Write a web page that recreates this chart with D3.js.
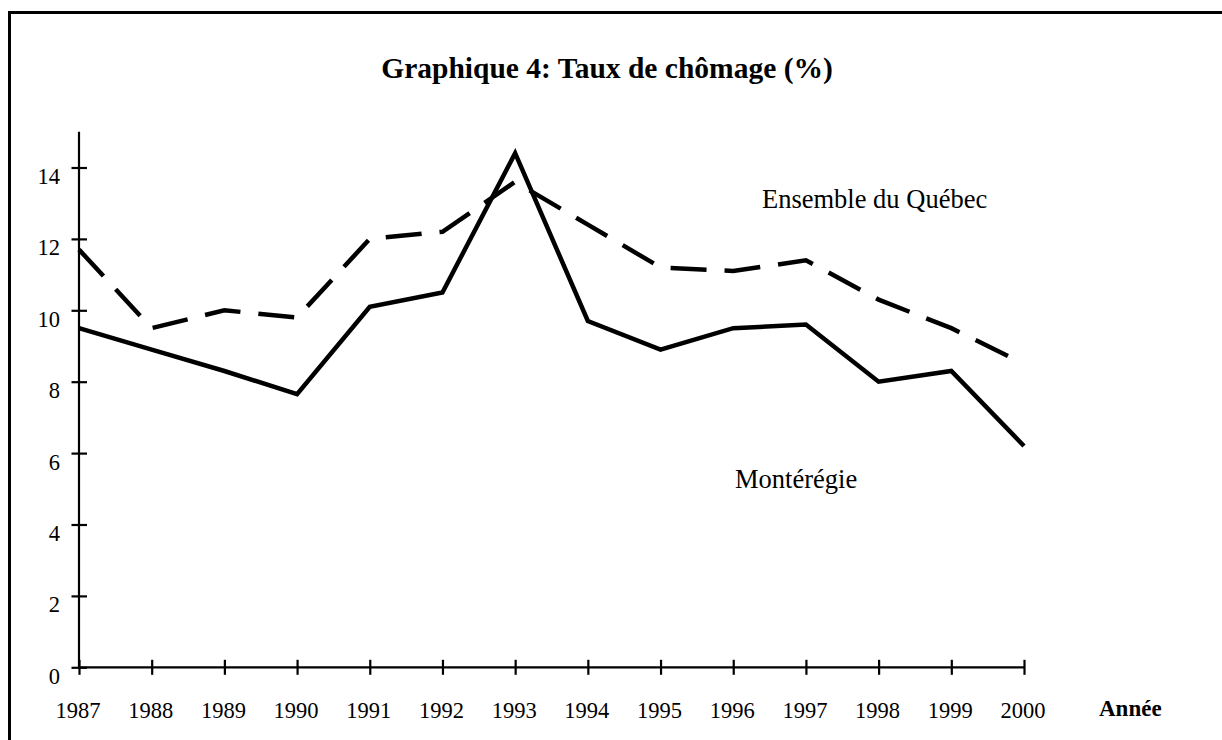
<!DOCTYPE html>
<html>
<head>
<meta charset="utf-8">
<script src="https://cdn.jsdelivr.net/npm/d3@7/dist/d3.min.js"></script>
<style>
  html, body { margin: 0; padding: 0; background: #fff; }
  svg { display: block; }
  text { font-family: "Liberation Serif", "Times New Roman", serif; fill: #000; }
</style>
</head>
<body>
<svg id="chart" width="1222" height="740"></svg>
<script>
const years = [1987, 1988, 1989, 1990, 1991, 1992, 1993, 1994, 1995, 1996, 1997, 1998, 1999, 2000];
const monteregie = [9.5, 8.9, 8.3, 7.65, 10.1, 10.5, 14.4, 9.7, 8.9, 9.5, 9.6, 8.0, 8.3, 6.2];
const quebec = [11.7, 9.5, 10.0, 9.8, 12.0, 12.2, 13.6, 12.4, 11.2, 11.1, 11.4, 10.3, 9.5, 8.5];
const yTicks = [0, 2, 4, 6, 8, 10, 12, 14];
const title = "Graphique 4: Taux de chômage (%)";
const xTitle = "Année";
const seriesLabels = ["Ensemble du Québec", "Montérégie"];

const svg = d3.select("#chart");
const serif = '"Liberation Serif", "Times New Roman", serif';

// outer frame
svg.append("rect")
  .attr("x", 9.5).attr("y", 12.5)
  .attr("width", 1400).attr("height", 900)
  .attr("fill", "none").attr("stroke", "#000").attr("stroke-width", 3);

const x = d3.scaleLinear().domain([1987, 2000]).range([79, 1024]);
const y = d3.scaleLinear().domain([0, 15]).range([667.3, 131.8]);

// title
svg.append("text")
  .attr("x", 607).attr("y", 78)
  .attr("text-anchor", "middle")
  .attr("font-weight", "bold")
  .attr("font-size", 29.5)
  .text(title);

// Y axis
const yAxis = svg.append("g").attr("transform", `translate(${x(1987)},0)`)
  .call(d3.axisLeft(y).tickValues(yTicks).tickSize(0).tickFormat(""));
yAxis.select(".domain").attr("stroke", "#000").attr("stroke-width", 2.2)
  .attr("d", `M0,${y(15)}V${y(0)}`);
yAxis.selectAll(".tick line").attr("x1", -7.5).attr("x2", 8).attr("stroke", "#000").attr("stroke-width", 2.2);
yAxis.selectAll(".tick").append("text")
  .attr("x", -19).attr("y", 16)
  .attr("text-anchor", "end")
  .attr("font-size", 22.5)
  .attr("fill", "#000")
  .style("font-family", serif)
  .text(d => d);

// X axis
const xAxis = svg.append("g").attr("transform", `translate(0,${y(0)})`)
  .call(d3.axisBottom(x).tickValues(years).tickSize(0).tickFormat(""));
xAxis.select(".domain").attr("stroke", "#000").attr("stroke-width", 2.2)
  .attr("d", `M${x(1987)},0H${x(2000)}`);
xAxis.selectAll(".tick line").attr("y1", -7.5).attr("y2", 7.5).attr("stroke", "#000").attr("stroke-width", 2.2);
xAxis.selectAll(".tick").append("text")
  .attr("x", -1.5).attr("y", 51)
  .attr("text-anchor", "middle")
  .attr("font-size", 22.5)
  .attr("fill", "#000")
  .style("font-family", serif)
  .text(d => d);

svg.append("text")
  .attr("x", 1099).attr("y", 716)
  .attr("font-weight", "bold")
  .attr("font-size", 23)
  .text(xTitle);

// lines
const line = d3.line().x((d, i) => x(years[i])).y(d => y(d));

svg.append("path")
  .datum(quebec)
  .attr("d", line)
  .attr("fill", "none").attr("stroke", "#000")
  .attr("stroke-width", 4.5)
  .attr("stroke-dasharray", "36,18");

svg.append("path")
  .datum(monteregie)
  .attr("d", line)
  .attr("fill", "none").attr("stroke", "#000")
  .attr("stroke-width", 4.5)
  .attr("stroke-linejoin", "miter");

// series labels
svg.append("text")
  .attr("x", 762).attr("y", 208)
  .attr("font-size", 26.5)
  .text(seriesLabels[0]);
svg.append("text")
  .attr("x", 735).attr("y", 488)
  .attr("font-size", 26.5)
  .text(seriesLabels[1]);
</script>
</body>
</html>
